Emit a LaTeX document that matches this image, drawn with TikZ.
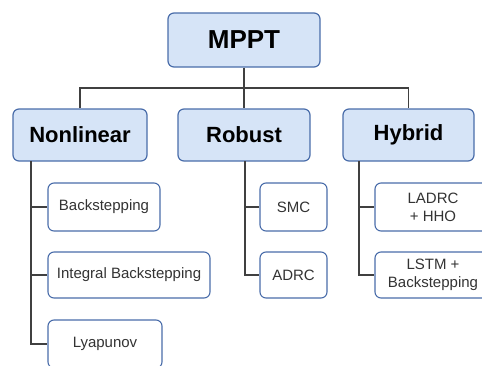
\documentclass[tikz,border=0pt]{standalone}
\usepackage{fontspec}
\setmainfont{Liberation Sans}
\definecolor{boxblue}{HTML}{4A6DAA}
\definecolor{boxfill}{HTML}{D6E4F7}
\definecolor{linegray}{HTML}{404040}
\begin{document}
\begin{tikzpicture}[x=1pt,y=-1pt,
	head/.style={draw=boxblue,line width=1.2pt,fill=boxfill,rounded corners=6pt,font=\bfseries},
	sub/.style={draw=boxblue,line width=1.1pt,fill=white,rounded corners=6pt,align=center,
		text=black!80,minimum height=48pt,font=\fontsize{15}{18}\selectfont},
	link/.style={draw=linegray,line width=1.2pt}]
	\useasboundingbox (0,0) rectangle (482,365);

	% Top level
	\node[head,minimum width=152pt,minimum height=54pt,font=\bfseries\fontsize{26}{30}\selectfont] (mppt) at (244,40) {MPPT};

	% Second level
	\node[head,minimum width=134pt,minimum height=52pt,font=\bfseries\fontsize{22}{26}\selectfont] (nonlin) at (80,135) {Nonlinear};
	\node[head,minimum width=132pt,minimum height=52pt,font=\bfseries\fontsize{22}{26}\selectfont] (robust) at (244,135) {Robust};
	\node[head,minimum width=131pt,minimum height=52pt,font=\bfseries\fontsize{22}{26}\selectfont] (hybrid) at (408.5,135) {Hybrid};

	% Bus between the levels
	\coordinate (bus) at (244,88);
	\draw[link] (mppt.south) -- (robust.north);
	\draw[link] (nonlin.north) |- (bus) -| (hybrid.north);

	% Nonlinear methods
	\node[sub,minimum width=112pt] (bs) at (104,207) {Backstepping};
	\node[sub,minimum width=162pt,minimum height=46pt] (ibs) at (129,275) {Integral Backstepping};
	\node[sub,minimum width=114pt] (lyap) at (105,344) {Lyapunov};
	\coordinate (ntrunk) at (31,161);
	\draw[link] (ntrunk) |- (lyap.west);
	\draw[link] (ntrunk |- bs.west) -- (bs.west);
	\draw[link] (ntrunk |- ibs.west) -- (ibs.west);

	% Robust methods
	\node[sub,minimum width=67pt] (smc) at (293.5,207) {SMC};
	\node[sub,minimum width=67pt,minimum height=46pt] (adrc) at (293.5,275) {ADRC};
	\coordinate (rtrunk) at (245,161);
	\draw[link] (rtrunk) |- (adrc.west);
	\draw[link] (rtrunk |- smc.west) -- (smc.west);

	% Hybrid methods
	\node[sub,minimum width=116pt] (ladrc) at (433,207) {LADRC\\+ HHO};
	\node[sub,minimum width=116pt,minimum height=46pt] (lstm) at (433,275) {LSTM +\\Backstepping};
	\coordinate (htrunk) at (359,161);
	\draw[link] (htrunk) |- (lstm.west);
	\draw[link] (htrunk |- ladrc.west) -- (ladrc.west);

\end{tikzpicture}
\end{document}
